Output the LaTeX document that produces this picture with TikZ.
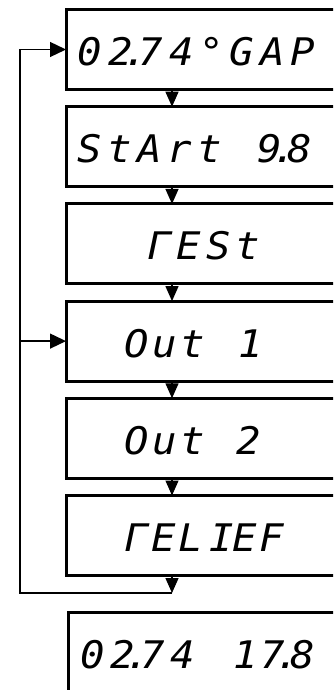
\documentclass[tikz,border=0pt]{standalone}
\usepackage{fontspec}
\setmainfont{Liberation Sans}
\newfontfamily\segfont{DejaVu Sans Mono}[ItalicFont={* Oblique},FakeStretch=1.07]
\usetikzlibrary{arrows.meta}
\newlength\segw
\newcommand\sC[1]{\makebox[\segw][c]{#1}}
\newcommand\sR[1]{\makebox[\segw][r]{#1}}
\newcommand\sD{\makebox[0pt]{.}}
\begin{document}
\begin{tikzpicture}[x=1pt,y=-1pt,
  box/.style={draw,line width=3pt,minimum width=290pt,minimum height=80pt,inner sep=0pt,outer sep=0pt},
  seg/.style={anchor=base west,inner sep=0pt,outer sep=0pt,font=\segfont\fontsize{38}{40}\selectfont\itshape},
  conn/.style={line width=1.3pt},
  downtip/.style={conn,-{Triangle[length=15pt,width=13pt]}},
  intip/.style={conn,-{Triangle[length=16pt,width=15pt]}}
]
\useasboundingbox (0,0) rectangle (333,690);
\clip (0,0) rectangle (333,690);

\node[box] (b1) at (211,49.5) {};
\node[box] (b2) at (211,146.7) {};
\node[box] (b3) at (211,243.9) {};
\node[box] (b4) at (211,341.1) {};
\node[box] (b5) at (211,438.3) {};
\node[box] (b6) at (211,535.5) {};
\node[box] (b7) at (213,652) {};

\node[seg] (t1) at (75,65.5) {\setlength\segw{30.4pt}\sC{0}\sC{2}\sD\sC{7}\sC{4}\sC{°}\sC{G}\sC{A}\sC{P}};
\node[seg] (t2) at (75,162.7) {\setlength\segw{30pt}\sC{S}\sC{t}\sC{A}\sC{r}\sC{t}\sC{ }\sC{9}\sD\sC{8}};
\node[seg] (t3) at (145,259.9) {\setlength\segw{29.3pt}\sC{Γ}\sC{E}\sC{S}\sC{t}};
\node[seg] (t4) at (123,357.1) {\setlength\segw{28pt}\sC{O}\sC{u}\sC{t}\sC{ }\sR{1}};
\node[seg] (t5) at (123,454.3) {\setlength\segw{28pt}\sC{O}\sC{u}\sC{t}\sC{ }\sC{2}};
\node[seg] (t6) at (123.5,551.5) {\setlength\segw{27pt}\sC{Γ}\sC{E}\sC{L}\sR{I\kern-3pt}\sC{E}\sC{F}};
\node[seg] (t7) at (78,668) {\setlength\segw{30pt}\sC{0}\sC{2}\sD\sC{7}\sC{4}\sC{ }\sR{1}\sC{7}\sD\sC{8}};

\coordinate (ax) at (172,0);
\draw[downtip] (b1.south -| ax) -- (b2.north -| ax);
\draw[downtip] (b2.south -| ax) -- (b3.north -| ax);
\draw[downtip] (b3.south -| ax) -- (b4.north -| ax);
\draw[downtip] (b4.south -| ax) -- (b5.north -| ax);
\draw[downtip] (b5.south -| ax) -- (b6.north -| ax);
\coordinate (lp) at (172,593);
\coordinate (lc) at (20,593);
\draw[downtip] (b6.south -| ax) -- (lp);
\draw[intip] (lp) -- (lc) |- (b1.west);
\draw[intip] (lc |- b4.west) -- (b4.west);
\end{tikzpicture}
\end{document}
